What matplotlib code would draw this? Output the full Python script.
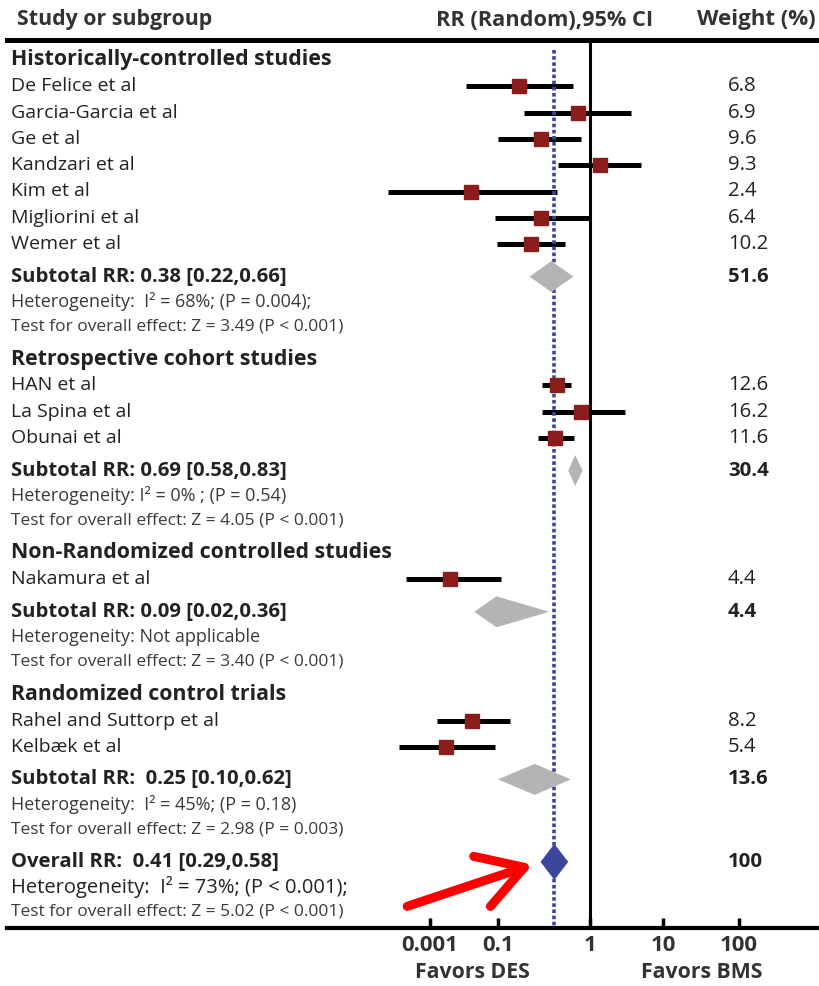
import numpy as np
import matplotlib.pyplot as plt
from matplotlib import transforms
from matplotlib.ticker import NullLocator

plt.rcParams['font.family'] = ['Open Sans', 'DejaVu Sans']

# ---- study data ----
groups = ['Historically-controlled studies', 'Retrospective cohort studies',
          'Non-Randomized controlled studies', 'Randomized control trials']
studies = [
    ['De Felice et al', 'Garcia-Garcia et al', 'Ge et al', 'Kandzari et al',
     'Kim et al', 'Migliorini et al', 'Wemer et al'],
    ['HAN et al', 'La Spina et al', 'Obunai et al'],
    ['Nakamura et al'],
    ['Rahel and Suttorp et al', 'Kelbæk et al'],
]
study_rr = [[0.17, 0.74, 0.29, 1.37, 0.016, 0.29, 0.23],
            [0.44, 0.80, 0.42],
            [0.0039],
            [0.017, 0.003]]
study_lo = [[0.0115, 0.19, 0.10, 0.45, 5.8e-5, 0.082, 0.093],
            [0.30, 0.30, 0.27],
            [2.0e-4],
            [0.0016, 1.2e-4]]
study_hi = [[0.65, 3.6, 0.80, 5.0, 0.44, 0.98, 0.53],
            [0.62, 3.0, 0.67],
            [0.108],
            [0.135, 0.082]]
study_wt = [[6.8, 6.9, 9.6, 9.3, 2.4, 6.4, 10.2],
            [12.6, 16.2, 11.6],
            [4.4],
            [8.2, 5.4]]

sub_rr = [0.38, 0.69, 0.09, 0.25]
sub_lo = [0.22, 0.58, 0.02, 0.10]
sub_hi = [0.66, 0.83, 0.36, 0.62]
sub_wt = [51.6, 30.4, 4.4, 13.6]
sub_label = ['Subtotal RR: 0.38 [0.22,0.66]', 'Subtotal RR: 0.69 [0.58,0.83]',
             'Subtotal RR: 0.09 [0.02,0.36]', 'Subtotal RR:  0.25 [0.10,0.62]']
sub_het = ['Heterogeneity:  I² = 68%; (P = 0.004);',
           'Heterogeneity: I² = 0% ; (P = 0.54)',
           'Heterogeneity: Not applicable',
           'Heterogeneity:  I² = 45%; (P = 0.18)']
sub_test = ['Test for overall effect: Z = 3.49 (P < 0.001)',
            'Test for overall effect: Z = 4.05 (P < 0.001)',
            'Test for overall effect: Z = 3.40 (P < 0.001)',
            'Test for overall effect: Z = 2.98 (P = 0.003)']

overall_rr, overall_lo, overall_hi = 0.41, 0.29, 0.58
overall_wt = 100
overall_label = 'Overall RR:  0.41 [0.29,0.58]'
overall_het = 'Heterogeneity:  I² = 73%; (P < 0.001);'
overall_test = 'Test for overall effect: Z = 5.02 (P < 0.001)'

tick_vals = [0.001, 0.1, 1, 10, 100]
tick_labels = ['0.001', '0.1', '1', '10', '100']

# ---- figure / layout (units are pixels of the 819x986 canvas) ----
W, H = 819, 986
AX_L, AX_R, AX_T, AX_B = 7, 819, 40, 928
TICK_PX = np.array([430., 498., 590., 663., 739.])
LOG_T = np.log10(tick_vals)

TXT = '#222222'
SUB_TXT = '#3a3a3a'
HEAD_TXT = '#333333'
SQ = '#8b1c1c'
GREY = '#b4b4b4'
NAVY = '#3b479b'


def _extrap(x, xp, fp):
    y = np.interp(x, xp, fp)
    s0 = (fp[1] - fp[0]) / (xp[1] - xp[0])
    s1 = (fp[-1] - fp[-2]) / (xp[-1] - xp[-2])
    y = np.where(x < xp[0], fp[0] + (x - xp[0]) * s0, y)
    y = np.where(x > xp[-1], fp[-1] + (x - xp[-1]) * s1, y)
    return y


# piecewise log scale pinned to the labelled ticks
def fwd(v):
    v = np.clip(np.asarray(v, dtype=float), 1e-300, None)
    return _extrap(np.log10(v), LOG_T, TICK_PX)


def inv(u):
    return 10 ** _extrap(np.asarray(u, dtype=float), TICK_PX, LOG_T)


fig = plt.figure(figsize=(W / 100, H / 100), dpi=100)
ax = fig.add_axes([AX_L / W, 1 - AX_B / H, (AX_R - AX_L) / W, (AX_B - AX_T) / H])
ax.set_xscale('function', functions=(fwd, inv))
ax.set_xlim(inv(AX_L), inv(AX_R))
ax.set_ylim(AX_B, AX_T)

for s in ('left', 'right'):
    ax.spines[s].set_visible(False)
ax.spines['top'].set_linewidth(3.6)
ax.spines['bottom'].set_linewidth(3.0)
ax.set_yticks([])
ax.set_xticks(tick_vals)
ax.set_xticklabels(tick_labels)
ax.xaxis.set_minor_locator(NullLocator())
ax.tick_params(axis='x', direction='in', length=7, width=2.5, pad=5,
               labelsize=16, labelcolor=HEAD_TXT)
for lbl in ax.get_xticklabels():
    lbl.set_fontweight('bold')

tr = transforms.blended_transform_factory(fig.transFigure, ax.transData)
X_TXT = 11 / W
X_WT = 728 / W


def left_text(y, s, size=14, bold=False, color=TXT):
    ax.text(X_TXT, y, s, transform=tr, ha='left', va='center', fontsize=size,
            fontweight='bold' if bold else 'normal', color=color)


def weight_text(y, w, bold=False):
    ax.text(X_WT, y, f'{w:g}', transform=tr, ha='left', va='center', fontsize=14.7,
            fontweight='bold' if bold else 'normal', color=TXT)


def diamond(y, lo, est, hi, h, color):
    ax.fill([lo, est, hi, est], [y, y - h, y, y + h], color=color, lw=0, zorder=5)


STEP, HSTEP, GAP = 26.3, 25.0, 32.5
first_row = 60.0
y = first_row
for g in range(len(groups)):
    left_text(y, groups[g], size=15.4, bold=True)
    for name, rr, lo, hi, wt in zip(studies[g], study_rr[g], study_lo[g],
                                    study_hi[g], study_wt[g]):
        y += STEP
        left_text(y, name)
        weight_text(y, wt)
        ax.hlines(y, lo, hi, color='black', lw=3.6, zorder=3)
        ax.plot(rr, y, marker='s', ms=10.5, color=SQ, mec=SQ, zorder=6)
    y += GAP
    left_text(y, sub_label[g], size=14.6, bold=True)
    weight_text(y, sub_wt[g], bold=True)
    diamond(y, sub_lo[g], sub_rr[g], sub_hi[g], 15.5, GREY)
    y += HSTEP
    left_text(y, sub_het[g], size=13, color=SUB_TXT)
    y += HSTEP
    left_text(y, sub_test[g], size=12.5, color=SUB_TXT)
    y += GAP

overall_row = y
left_text(overall_row, overall_label, size=14.6, bold=True)
weight_text(overall_row, overall_wt, bold=True)
diamond(overall_row, overall_lo, overall_rr, overall_hi, 18, NAVY)
left_text(overall_row + HSTEP, overall_het, size=14.5)
left_text(overall_row + 2 * HSTEP, overall_test, size=12.5, color=SUB_TXT)

# line of no effect and pooled estimate
ax.axvline(1, color='black', lw=2.2, zorder=2)
ax.vlines(overall_rr, first_row - 10, AX_B, color=NAVY, lw=2.6,
          linestyles=(0, (1.0, 0.7)), zorder=4)

ax.annotate('', xy=(overall_lo, overall_row), xytext=(-96, -32),
            textcoords='offset points',
            arrowprops=dict(arrowstyle='->,head_length=1.6,head_width=0.95',
                            mutation_scale=20, color='red', lw=6.5,
                            shrinkA=0, shrinkB=6, capstyle='round'))

# column headers and direction labels
for x, s, ha, fs in [(17, 'Study or subgroup', 'left', 15.4),
                     (545, 'RR (Random),95% CI', 'center', 15.7),
                     (756, 'Weight (%)', 'center', 16)]:
    fig.text(x / W, 1 - 20 / H, s, ha=ha, va='center', fontsize=fs,
             fontweight='bold', color=HEAD_TXT)
fig.text(472 / W, 1 - 973 / H, 'Favors DES', ha='center', va='center',
         fontsize=15.3, fontweight='bold', color=HEAD_TXT)
fig.text(702 / W, 1 - 973 / H, 'Favors BMS', ha='center', va='center',
         fontsize=15.3, fontweight='bold', color=HEAD_TXT)

fig.savefig('out.png', dpi=100)
